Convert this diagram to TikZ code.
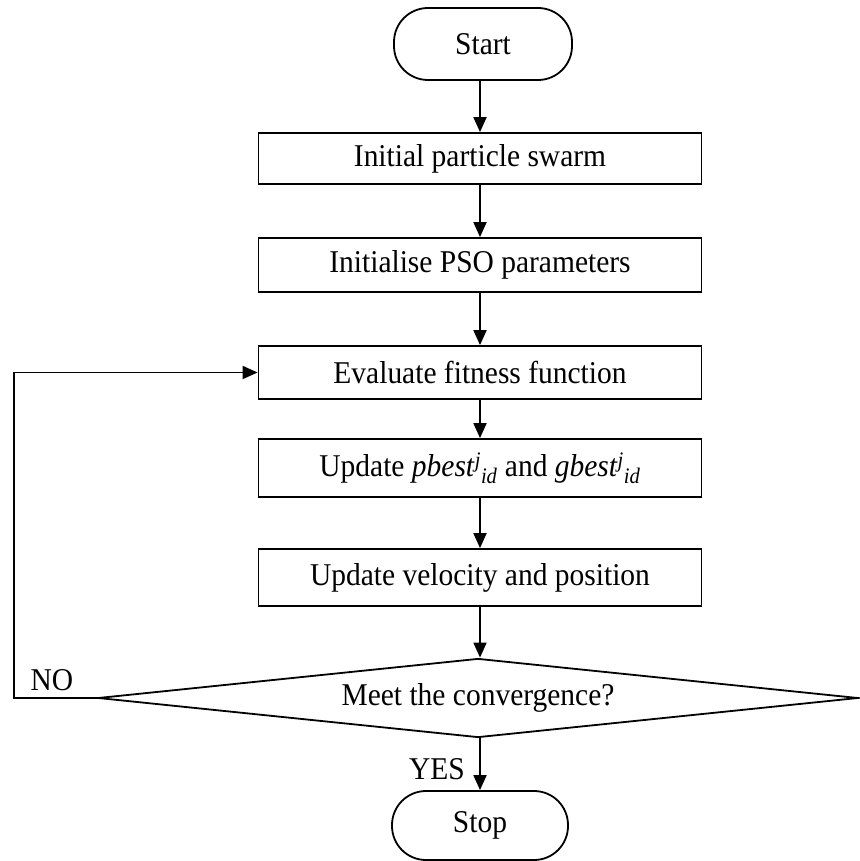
\documentclass[tikz,border=0pt]{standalone}
\usepackage{fontspec}
\setmainfont{Liberation Serif}[FakeStretch=0.93]
\usetikzlibrary{arrows.meta,shapes.geometric}
\tikzset{
  every node/.style={font=\fontsize{31.7}{36}\selectfont, inner sep=0pt},
  procbox/.style={draw, line width=1.8pt, rectangle, minimum width=443pt},
  termbox/.style={draw, line width=1.8pt, rectangle, rounded corners=34pt},
  decbox/.style={draw, line width=1.8pt, diamond, aspect=10, minimum width=760pt, minimum height=79pt},
  arr/.style={line width=1.8pt, -{Triangle[length=15pt,width=13pt]}},
  plainlabel/.style={}
}
\begin{document}
\begin{tikzpicture}[x=1pt,y=-1pt]
\useasboundingbox (0,0) rectangle (859,861);
\node[termbox, minimum width=178pt, minimum height=72pt] (start) at (483,44) {Start};
\node[procbox, minimum height=51pt] (b1) at (480,158.5) {Initial particle swarm};
\node[procbox, minimum height=54pt] (b2) at (480,265) {Initialise PSO parameters};
\node[procbox, minimum height=53pt] (b3) at (480,372.5) {Evaluate fitness function};
\node[procbox, minimum height=58pt] (b4) at (480,468) {Update \textit{pbest}\textsuperscript{\textit{j}}\textsubscript{\textit{id}} and \textit{gbest}\textsuperscript{\textit{j}}\textsubscript{\textit{id}}};
\node[procbox, minimum height=57pt] (b5) at (480,577.5) {Update velocity and position};
\node[decbox] (dec) at (478,698) {Meet the convergence?};
\node[termbox, minimum width=176pt, minimum height=69pt] (stop) at (480,825.5) {Stop};
\node[plainlabel] (no) at (52,680) {NO};
\node[plainlabel] (yes) at (437,769) {YES};
\coordinate (lp) at (14,698);
\draw[arr] (start.south -| b1.north) -- (b1.north);
\draw[arr] (b1) -- (b2);
\draw[arr] (b2) -- (b3);
\draw[arr] (b3) -- (b4);
\draw[arr] (b4) -- (b5);
\draw[arr] (b5.south) -- (b5.south |- dec.north);
\draw[arr] (dec.south -| stop.north) -- (stop.north);
\draw[arr] (dec.west) -- (lp) |- (b3.west);
\end{tikzpicture}
\end{document}
